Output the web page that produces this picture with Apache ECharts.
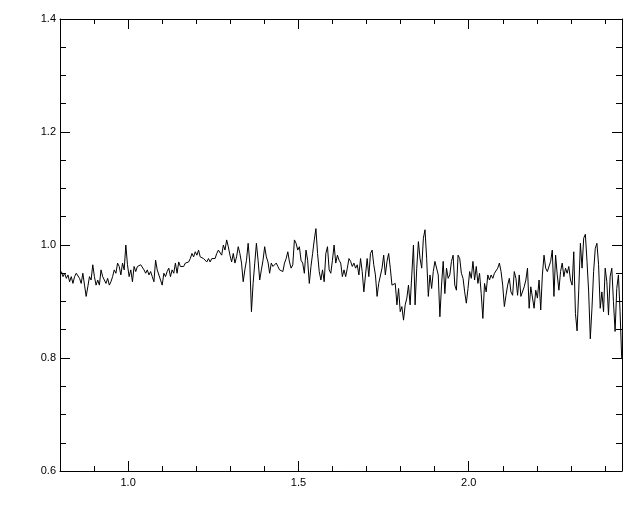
<!DOCTYPE html>
<html>
<head>
<meta charset="utf-8">
<script src="https://cdn.jsdelivr.net/npm/echarts@6/dist/echarts.min.js"></script>
<style>
html,body{margin:0;padding:0;background:#fff;}
#chart{width:640px;height:512px;}
</style>
</head>
<body>
<div id="chart"></div>
<script>
// Wavelength grid (microns): first sample and spacing
var waveStart = 0.804;
var waveStep = 0.004853;

// Normalised flux, in four consecutive pieces
var flux1 = [
0.953,0.944,0.950,0.941,0.947,0.935,0.944,0.932,0.944,0.950,
0.953,0.941,0.932,0.950,0.929,0.909,0.926,0.944,0.938,0.965,
0.944,0.929,0.938,0.929,0.956,0.944,0.938,0.932,0.941,0.929,
0.935,0.944,0.956,0.950,0.968,0.962,0.947,0.968,0.956,1.000,
0.965,0.944,0.956,0.935,0.962,0.953,0.962,0.959,0.965,0.962,
0.956,0.950,0.956,0.947,0.953,0.944,0.935,0.973,0.956,0.953,
0.938,0.929,0.950,0.944,0.953,0.959,0.944,0.956,0.950,0.968,
0.950,0.970,0.962,0.965,0.962,0.968,0.965,0.970,0.976,0.985,
0.979,0.988,0.982,0.991,0.979,0.976
];
var flux2 = [
0.976,0.973,0.970,0.976,0.970,0.976,0.979,0.976,0.985,0.991,
0.994,0.982,1.000,0.991,1.009,0.997,0.982,0.970,0.985,0.968,
0.979,0.997,0.985,0.968,0.935,0.956,0.973,1.003,0.968,0.882,
0.932,0.968,1.003,0.973,0.938,0.956,0.973,0.997,0.979,0.970,
0.950,0.968,0.962,0.965,0.968,0.962,0.956,0.959,0.953,0.968,
0.976,0.988,0.970,0.959,0.965,1.009,1.003,0.991,0.997,0.973,
0.968,0.950,0.991,0.973,0.932,0.962,0.985,1.009,1.029,0.985,
0.953,0.938,0.956,0.935,0.985,0.997,0.956,0.950,0.973,1.000,
0.968,0.982,0.973,0.968,0.944,0.956
];
var flux3 = [
0.944,0.959,0.976,0.971,0.962,0.968,0.959,0.965,0.947,0.976,
0.953,0.917,0.947,0.976,0.944,0.985,0.991,0.965,0.947,0.909,
0.932,0.935,0.959,0.982,0.947,0.971,0.985,0.959,0.929,0.926,
0.932,0.894,0.923,0.882,0.891,0.867,0.894,0.906,0.929,0.894,
0.947,1.000,0.894,0.959,1.006,0.976,0.959,1.012,1.027,0.976,
0.909,0.947,0.923,0.953,0.971,0.973,0.947,0.873,0.929,0.971,
0.914,0.959,0.941,0.947,0.971,0.982,0.929,0.920,0.982,0.976,
0.950,0.941,0.917,0.897,0.923,0.953,0.941,0.971,0.938,0.962,
0.932,0.950,0.914,0.870,0.932
];
var flux4 = [
0.917,0.947,0.938,0.947,0.941,0.950,0.947,0.959,0.968,0.953,
0.929,0.891,0.911,0.929,0.941,0.917,0.911,0.953,0.941,0.911,
0.947,0.909,0.911,0.926,0.938,0.959,0.888,0.926,0.926,0.888,
0.920,0.906,0.938,0.885,0.947,0.982,0.959,0.953,0.950,0.971,
0.991,0.909,0.982,0.947,0.920,0.953,0.968,0.944,0.959,0.950,
0.962,0.938,0.929,0.988,0.879,0.848,0.920,1.003,0.959,1.012,
1.019,0.971,0.917,0.834,0.888,0.953,0.994,1.003,0.965,0.888,
0.917,0.882,0.959,0.935,0.876,0.944,0.959,0.900,0.847,0.923,
0.947,0.882,0.799
];

var xMajor = [1.0, 1.5, 2.0];
var xMinor = [0.9, 1.1, 1.2, 1.3, 1.4, 1.6, 1.7, 1.8, 1.9, 2.1, 2.2, 2.3, 2.4];
var xMin = 0.8, xMax = 2.45;
var yMin = 0.6, yMax = 1.4, yStep = 0.2;

var flux = flux1.concat(flux2, flux3, flux4);
var points = flux.map(function (v, i) { return [waveStart + i * waveStep, v]; });

var black = '#000';
var font = { color: black, fontSize: 11, fontFamily: 'Liberation Sans, Arial, sans-serif' };

function xAxisDef(pos, values, len, showLine, showLabel) {
  return {
    type: 'value', position: pos, min: xMin, max: xMax,
    axisLine: { show: showLine, onZero: false, lineStyle: { color: black, width: 1 } },
    axisTick: { show: true, inside: true, length: len, customValues: values, lineStyle: { color: black, width: 1 } },
    axisLabel: Object.assign({ show: showLabel, customValues: values, margin: 6,
      formatter: function (v) { return v.toFixed(1); } }, font),
    splitLine: { show: false }, minorTick: { show: false }
  };
}
function yAxisDef(pos, showLabel) {
  return {
    type: 'value', position: pos, min: yMin, max: yMax, interval: yStep,
    axisLine: { show: true, onZero: false, lineStyle: { color: black, width: 1 } },
    axisTick: { show: true, inside: true, length: 10, lineStyle: { color: black, width: 1 } },
    minorTick: { show: true, splitNumber: 4, length: 6, lineStyle: { color: black, width: 1 } },
    axisLabel: Object.assign({ show: showLabel, margin: 4,
      formatter: function (v) { return v.toFixed(1); } }, font),
    splitLine: { show: false }, minorSplitLine: { show: false }
  };
}

var chart = echarts.init(document.getElementById('chart'), null, { renderer: 'canvas' });
chart.setOption({
  backgroundColor: '#fff',
  animation: false,
  grid: { left: 60, right: 18, top: 19, bottom: 41, containLabel: false, outerBoundsMode: 'none' },
  xAxis: [
    xAxisDef('bottom', xMajor, 10, true, true),
    xAxisDef('bottom', xMinor, 5, false, false),
    xAxisDef('top', xMajor, 10, true, false),
    xAxisDef('top', xMinor, 5, false, false)
  ],
  yAxis: [
    yAxisDef('left', true),
    yAxisDef('right', false)
  ],
  series: [{
    type: 'line', xAxisIndex: 0, yAxisIndex: 0,
    data: points, showSymbol: false, symbol: 'none',
    lineStyle: { color: black, width: 1 }, silent: true
  }]
});
</script>
</body>
</html>
